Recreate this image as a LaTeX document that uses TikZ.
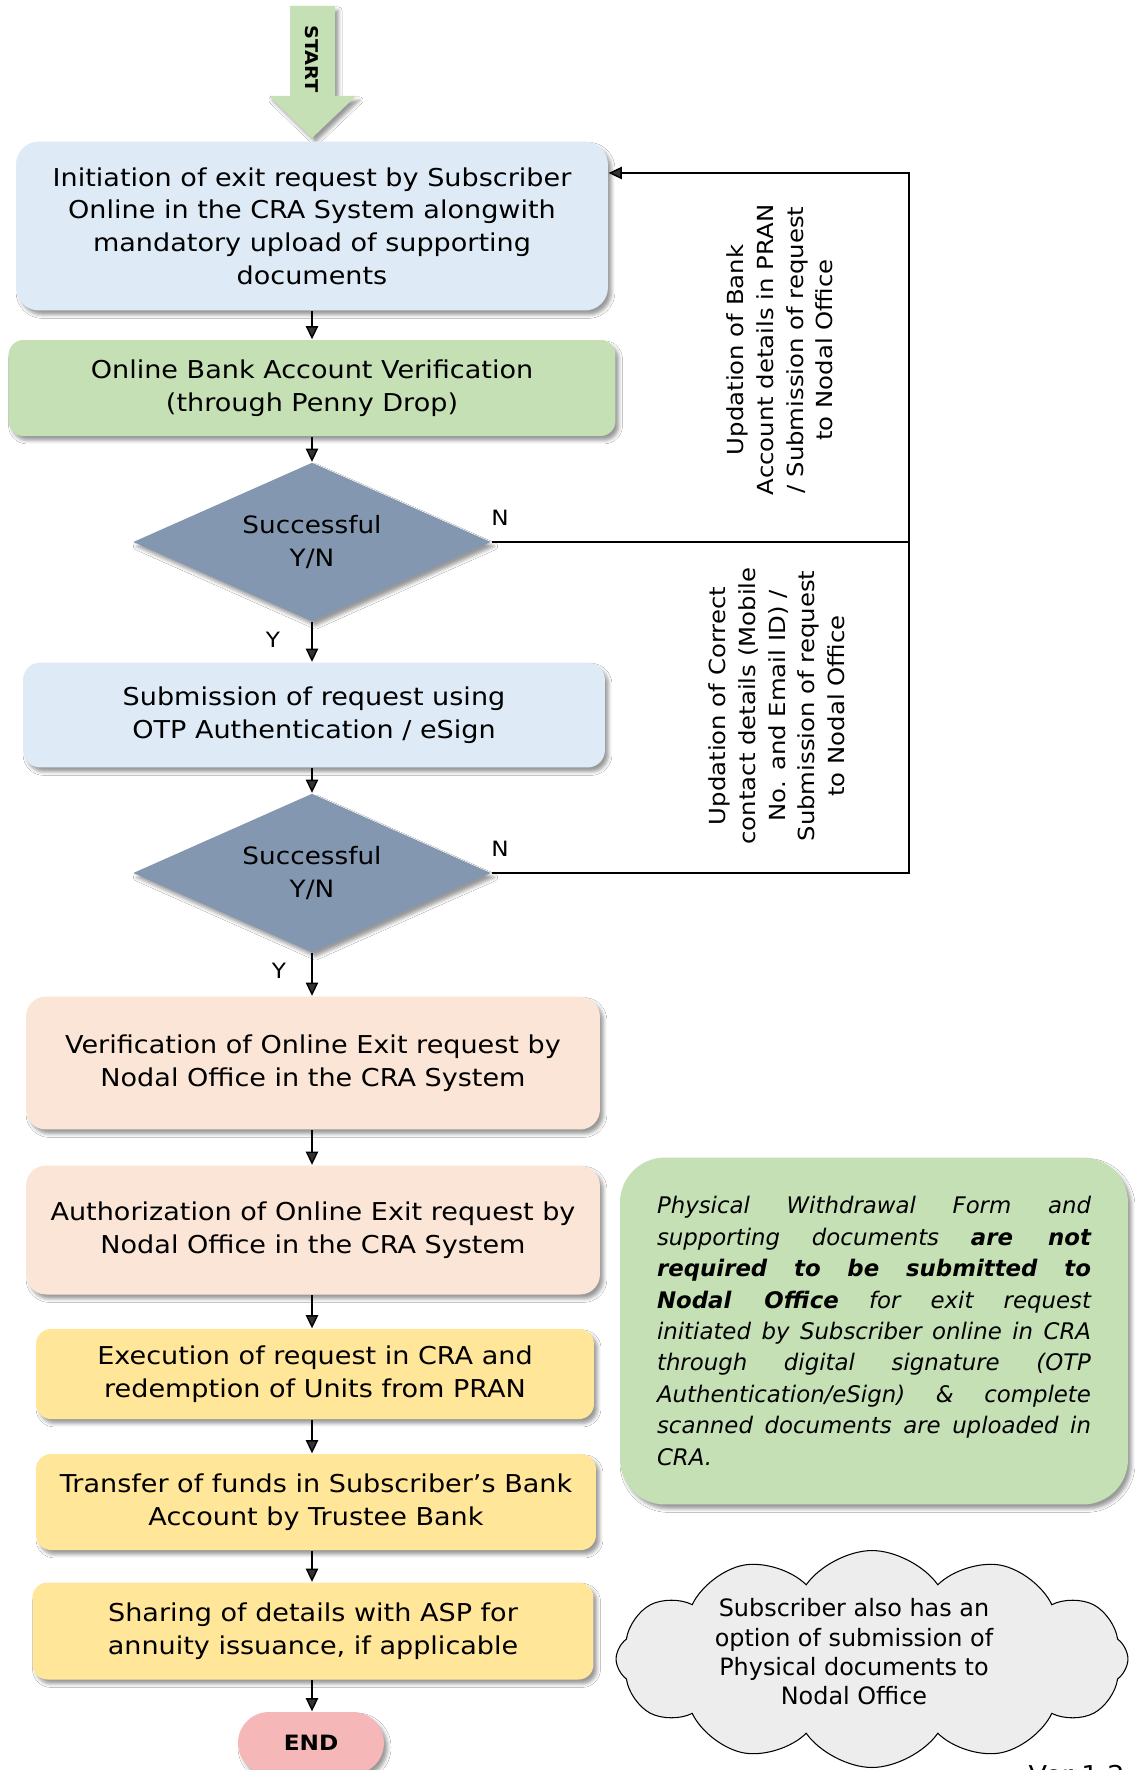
\documentclass[tikz,border=0pt]{standalone}
\usepackage{fontspec}
\setmainfont{DejaVu Sans}[FakeStretch=1.1]
\newfontfamily\notefont{DejaVu Sans}
\definecolor{StepBlue}{HTML}{DEEBF7}
\definecolor{StepGreen}{HTML}{C5E0B4}
\definecolor{StepPeach}{HTML}{FBE5D6}
\definecolor{StepGold}{HTML}{FFE699}
\definecolor{DecBlue}{HTML}{8497B0}
\definecolor{EndPink}{HTML}{F5B7B8}
\definecolor{CloudGray}{HTML}{EDEDED}
\usetikzlibrary{arrows.meta, positioning, shapes.geometric, shapes.symbols, shadows.blur}
\newlength{\notewd}
\setlength{\notewd}{8.68cm}
\newcommand{\noteline}[1]{\makebox[\notewd][s]{#1}}

\begin{document}
\begin{tikzpicture}[x=0.02cm, y=-0.02cm, line width=0.8pt,
    >={Triangle[length=7.5pt, width=7pt]},
    shade/.style={blur shadow={shadow xshift=2pt, shadow yshift=-2.5pt,
                  shadow blur radius=2pt, shadow opacity=40}},
    stepbox/.style={rounded corners=0.35cm, shade, align=center,
                    font=\fontsize{14}{18.6}\selectfont},
    decision/.style={diamond, fill=DecBlue, aspect=2.25, shade,
                     minimum width=7.16cm, minimum height=3.18cm,
                     inner sep=0pt, align=center,
                     font=\fontsize{13.6}{18.6}\selectfont},
    lbl/.style={font=\fontsize{12}{12}\selectfont, inner sep=1pt},
    sidetext/.style={rotate=90, align=center,
                     font=\fontsize{12.6}{16.9}\selectfont}]
  \path[use as bounding box, fill=white] (0,0) rectangle (1135,1770);
  % Start arrow
  \fill[StepGreen, shade] (290,6) -- (335,6) -- (335,96) -- (356,96)
    -- (312,138) -- (269,96) -- (290,96) -- cycle;
  \node[rotate=-90, font=\bfseries\fontsize{10}{10}\selectfont] (start)
    at (312,59) {START};
  % Main steps
  \node[stepbox, fill=StepBlue, rounded corners=0.46cm,
        minimum width=11.84cm, minimum height=3.38cm] (init) at (312,226)
    {Initiation of exit request by Subscriber\\Online in the CRA System alongwith\\mandatory upload of supporting\\documents};
  \node[stepbox, fill=StepGreen, rounded corners=0.3cm,
        minimum width=12.14cm, minimum height=1.92cm] (penny) at (312,388)
    {Online Bank Account Verification\\(through Penny Drop)};
  \node[decision] (dec1) at (312,542) {Successful\\Y/N};
  \node[stepbox, fill=StepBlue,
        minimum width=11.64cm, minimum height=2.1cm] (otp) at (314,715)
    {Submission of request using\\OTP Authentication / eSign};
  \node[decision] (dec2) at (312,873) {Successful\\Y/N};
  \node[stepbox, fill=StepPeach, rounded corners=0.4cm,
        minimum width=11.48cm, minimum height=2.66cm] (verify) at (313,1063)
    {Verification of Online Exit request by\\Nodal Office in the CRA System};
  \node[stepbox, fill=StepPeach, rounded corners=0.4cm,
        minimum width=11.48cm, minimum height=2.58cm] (auth) at (313,1230)
    {Authorization of Online Exit request by\\Nodal Office in the CRA System};
  \node[stepbox, fill=StepGold, rounded corners=0.3cm,
        minimum width=11.16cm, minimum height=1.8cm] (exec) at (315,1374)
    {Execution of request in CRA and\\redemption of Units from PRAN};
  \node[stepbox, fill=StepGold, rounded corners=0.3cm,
        minimum width=11.2cm, minimum height=1.92cm] (funds) at (316,1502)
    {Transfer of funds in Subscriber’s Bank\\Account by Trustee Bank};
  \node[stepbox, fill=StepGold, rounded corners=0.3cm,
        minimum width=11.22cm, minimum height=1.94cm] (asp) at (313,1631)
    {Sharing of details with ASP for\\annuity issuance, if applicable};
  \node[stepbox, fill=EndPink, rounded corners=0.62cm,
        minimum width=2.92cm, minimum height=1.24cm,
        font=\bfseries\fontsize{12}{12}\selectfont] (end) at (311,1743) {END};
  % Flow
  \draw[->] (312,311) -- (penny.north -| 312,0);
  \draw[->] (penny.south -| 312,0) -- (dec1.north);
  \draw[->] (dec1.south) -- (otp.north -| 312,0);
  \draw[->] (otp.south -| 312,0) -- (dec2.north);
  \draw[->] (dec2.south) -- (verify.north -| 312,0);
  \draw[->] (verify.south -| 312,0) -- (auth.north -| 312,0);
  \draw[->] (auth.south -| 312,0) -- (exec.north -| 312,0);
  \draw[->] (exec.south -| 312,0) -- (funds.north -| 312,0);
  \draw[->] (funds.south -| 312,0) -- (asp.north -| 312,0);
  \draw[->] (asp.south -| 312,0) -- (end.north -| 312,0);
  \node[lbl] (y1) at (273,640) {Y};
  \node[lbl] (y2) at (279,971) {Y};
  % Loop back
  \coordinate (back) at (909,173);
  \draw (dec1.east) -- (dec1.east -| back);
  \draw[->] (dec2.east) -- (dec2.east -| back) -- (back) -- (init.east |- back);
  \node[lbl] (n1) at (500,518) {N};
  \node[lbl] (n2) at (500,849) {N};
  \node[sidetext] (bankupd) at (780,350)
    {Updation of Bank\\Account details in PRAN\\/ Submission of request\\to Nodal Office};
  \node[sidetext] (contupd) at (777,706)
    {Updation of Correct\\contact details (Mobile\\No. and Email ID) /\\Submission of request\\to Nodal Office};
  % Notes
  \node[fill=StepGreen, rounded corners=0.9cm, shade,
        minimum width=10.16cm, minimum height=6.94cm, align=left,
        font=\notefont\itshape\fontsize{13}{17.9}\selectfont] (note) at (874,1331)
    {\noteline{Physical Withdrawal Form and}\\
     \noteline{supporting documents \textbf{are not}}\\
     \noteline{\textbf{required to be submitted to}}\\
     \noteline{\textbf{Nodal Office} for exit request}\\
     \noteline{initiated by Subscriber online in CRA}\\
     \noteline{through digital signature (OTP}\\
     \noteline{Authentication/eSign) \& complete}\\
     \noteline{scanned documents are uploaded in}\\
     CRA.};
  \node[cloud, cloud puffs=12, cloud puff arc=110, aspect=2.4, draw,
        line width=0.6pt, fill=CloudGray, minimum width=10.24cm,
        minimum height=4.34cm] (optcloud) at (872,1659) {};
  \node[align=center, font=\notefont\fontsize{13.6}{16.7}\selectfont]
    (cloudtext) at (854,1652)
    {Subscriber also has an\\option of submission of\\Physical documents to\\Nodal Office};
  \node[anchor=north west, inner sep=0pt, font=\fontsize{14}{14}\selectfont]
    (ver) at (1028,1765) {Ver 1.2};
\end{tikzpicture}
\end{document}
